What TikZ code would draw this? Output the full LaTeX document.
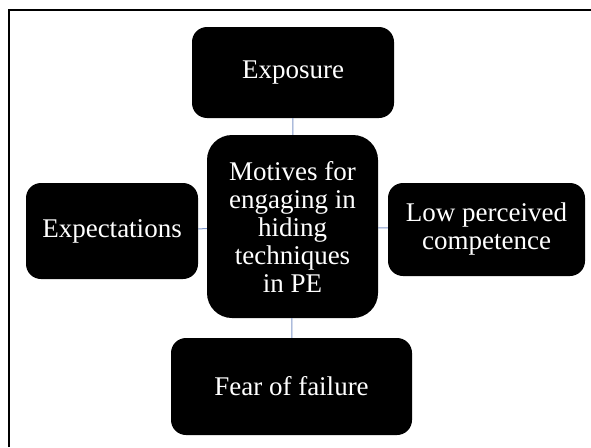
\documentclass[tikz,border=0pt]{standalone}
\usepackage{fontspec}
\setmainfont{Liberation Serif}
\usetikzlibrary{positioning}

\definecolor{linkblue}{HTML}{7F96C8}

\begin{document}
\begin{tikzpicture}[x=1pt, y=-1pt,
    motive/.style={fill=black, text=white, rounded corners=15pt, align=center,
      inner sep=0pt, font=\fontsize{27}{28}\selectfont},
    link/.style={draw=linkblue, line width=1pt}]
  \useasboundingbox (0,0) rectangle (591,447);

  % frame, cut at right and bottom
  \draw[line width=2pt] (9,447) -- (9,10) -- (591,10);

  % centre box
  \node[motive, rounded corners=25pt, minimum width=171pt, minimum height=183pt]
    (motives) at (292.5,226.5) {Motives for\\engaging in\\hiding\\techniques\\in PE};

  % the four motives round it
  \node[motive, minimum width=202pt, minimum height=91pt] (exposure) at (293,72.5) {Exposure};
  \node[motive, minimum width=172pt, minimum height=96pt] (expect) at (112,231) {Expectations};
  \node[motive, minimum width=197pt, minimum height=93pt] (lowcomp) at (486.5,229.5) {Low perceived\\competence};
  \node[motive, minimum width=241pt, minimum height=97pt] (fear) at (291.5,386.5) {Fear of failure};

  % links
  \path[link] (exposure) -- (motives);
  \path[link] (fear) -- (motives);
  \path[link] (expect) -- (motives);
  \path[link] (lowcomp) -- (motives);
\end{tikzpicture}
\end{document}
